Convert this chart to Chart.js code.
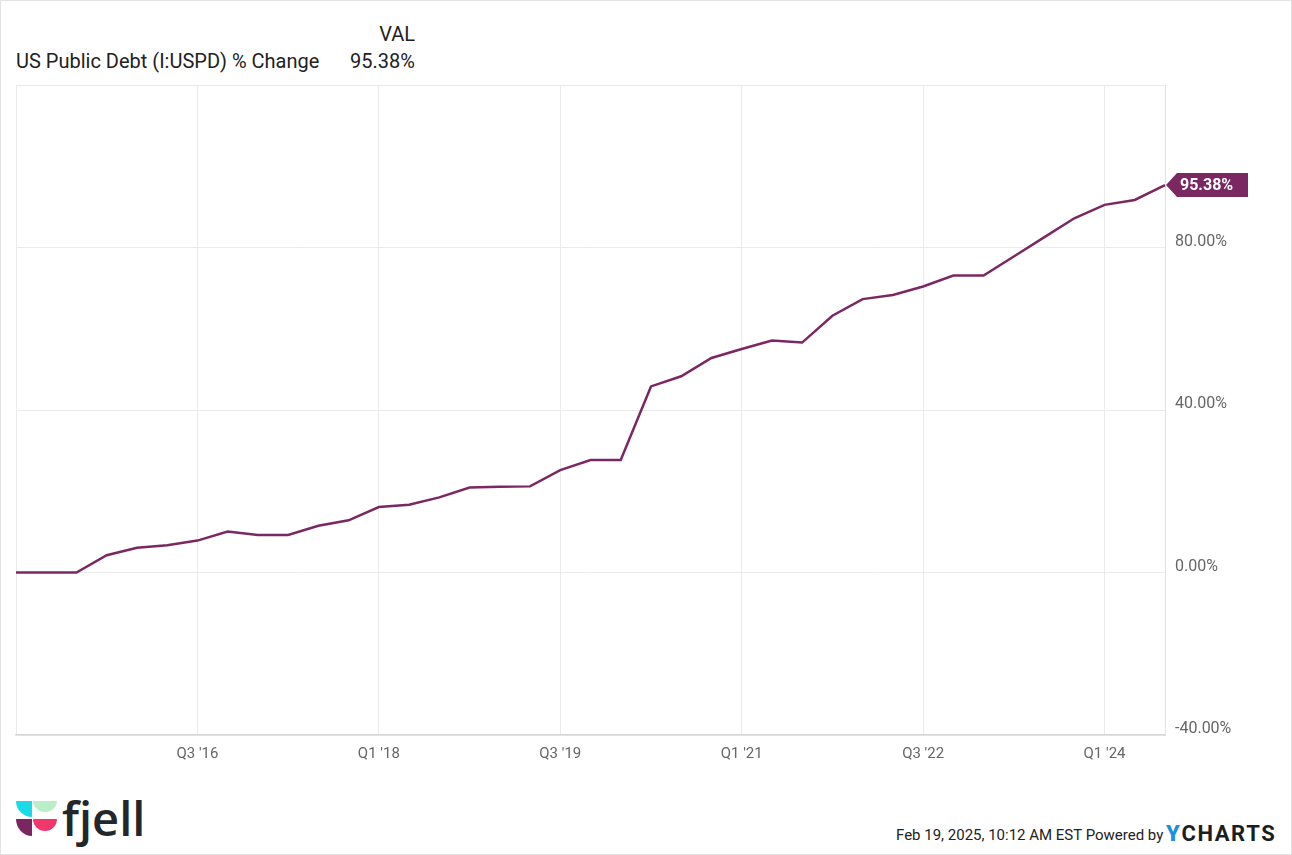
<!DOCTYPE html>
<html>
<head>
<meta charset="utf-8">
<script src="https://cdn.jsdelivr.net/npm/chart.js@4.4.1/dist/chart.umd.min.js"></script>
<style>
  body { margin: 0; background: #fff; font-family: Roboto, sans-serif; }
  #frame { position: relative; width: 1290px; height: 853px; border: 1px solid #e3e3e3; overflow: hidden; }
  #chartBox { position: absolute; left: -1px; top: -1px; width: 1292px; height: 775px; }
  .hdr { position: absolute; font-size: 20px; color: #222; white-space: nowrap; line-height: 24px; }
  #footer { position: absolute; left: 895px; top: 825px; font-size: 15px; color: #222; white-space: nowrap; }
  #ycharts { position: absolute; left: 1165px; top: 820px; font-size: 22px; font-weight: 700; letter-spacing: 1.6px; color: #1d1d1d; font-family: Roboto, sans-serif; }
  #ycharts b { color: #1e8fe1; }
</style>
</head>
<body>
<div id="frame">
  <div class="hdr" style="right: 876px; top: 21px;">VAL</div>
  <div class="hdr" style="left: 15px; top: 48px;">US Public Debt (I:USPD) % Change</div>
  <div class="hdr" style="right: 876px; top: 48px;">95.38%</div>

  <div id="chartBox"><canvas id="chart"></canvas></div>

  <svg style="position:absolute; left:15px; top:799px" width="140" height="50">
    <path d="M16 1 L0 1 A16 16 0 0 0 16 17 Z" fill="#19dbe8"/>
    <path d="M17 1 L41 1 A12 11 0 0 1 17 1 Z" fill="#b9efc8"/>
    <path d="M16 19 L0 19 A16 17 0 0 0 16 36 Z" fill="#7a2761"/>
    <path d="M17 19 L41 19 A12 12 0 0 1 17 19 Z" fill="#f2386b"/>
    <text x="46" y="36" font-family="Open Sans, sans-serif" font-weight="600" font-size="47" fill="#23262b">fjell</text>
  </svg>

  <div id="footer">Feb 19, 2025, 10:12 AM EST Powered by</div>
  <div id="ycharts"><b>Y</b>CHARTS</div>
</div>

<script>
const quarters = [
  "Q1 '15", "Q2 '15", "Q3 '15", "Q4 '15",
  "Q1 '16", "Q2 '16", "Q3 '16", "Q4 '16",
  "Q1 '17", "Q2 '17", "Q3 '17", "Q4 '17",
  "Q1 '18", "Q2 '18", "Q3 '18", "Q4 '18",
  "Q1 '19", "Q2 '19", "Q3 '19", "Q4 '19",
  "Q1 '20", "Q2 '20", "Q3 '20", "Q4 '20",
  "Q1 '21", "Q2 '21", "Q3 '21", "Q4 '21",
  "Q1 '22", "Q2 '22", "Q3 '22", "Q4 '22",
  "Q1 '23", "Q2 '23", "Q3 '23", "Q4 '23",
  "Q1 '24", "Q2 '24", "Q3 '24"
];

// % change in US public debt since Q1 2015
const pctChange = [
  0, 0, 0, 4.25,
  6.1, 6.7, 7.85, 10.1,
  9.25, 9.25, 11.5, 12.85,
  16.1, 16.7, 18.5, 20.9,
  21.1, 21.2, 25.2, 27.7,
  27.7, 45.8, 48.3, 52.8,
  55.0, 57.1, 56.6, 63.2,
  67.3, 68.3, 70.4, 73.1,
  73.1, 77.8, 82.5, 87.2,
  90.5, 91.7, 95.38
];

const yTicks = [-40, 0, 40, 80, 120];
const labelEvery = 6;
const lineColor = '#7b2862';

// value badge at the end of the line
const lastValueTag = {
  id: 'lastValueTag',
  afterDatasetsDraw(chart) {
    const meta = chart.getDatasetMeta(0);
    const pt = meta.data[meta.data.length - 1];
    const ctx = chart.ctx;
    const x = pt.x + 1, y = pt.y;
    ctx.save();
    ctx.fillStyle = lineColor;
    ctx.beginPath();
    ctx.moveTo(x, y);
    ctx.lineTo(x + 11, y - 12);
    ctx.lineTo(x + 82, y - 12);
    ctx.lineTo(x + 82, y + 12);
    ctx.lineTo(x + 11, y + 12);
    ctx.closePath();
    ctx.fill();
    ctx.fillStyle = '#fff';
    ctx.font = 'bold 16px Roboto';
    ctx.textBaseline = 'middle';
    ctx.fillText(pctChange[pctChange.length - 1].toFixed(2) + '%', x + 14, y + 1);
    ctx.restore();
  }
};

new Chart(document.getElementById('chart'), {
  type: 'line',
  data: {
    labels: quarters,
    datasets: [{
      data: pctChange,
      borderColor: lineColor,
      borderWidth: 2.5,
      pointRadius: 0,
      tension: 0,
      fill: false,
    }],
  },
  options: {
    responsive: true,
    maintainAspectRatio: false,
    animation: false,
    layout: { padding: { left: 16, top: 85, right: 0, bottom: 0 } },
    plugins: {
      legend: { display: false },
      tooltip: { enabled: false },
    },
    scales: {
      x: {
        grid: {
          color: (c) => (c.index % labelEvery === 0 ? '#ebebeb' : 'rgba(0,0,0,0)'),
          drawTicks: false,
        },
        border: { color: '#d8d8d8', width: 1.5 },
        ticks: {
          autoSkip: false,
          maxRotation: 0,
          padding: 10,
          color: '#666',
          font: { family: 'Roboto', size: 15 },
          callback: (v, i) => (i > 0 && i % labelEvery === 0 ? quarters[i] : ''),
        },
        afterFit: (s) => { s.height = 40; },
      },
      y: {
        position: 'right',
        min: -40,
        max: 120,
        afterBuildTicks: (s) => { s.ticks = yTicks.map((v) => ({ value: v })); },
        grid: { color: '#ebebeb', drawTicks: false },
        border: { color: '#e3e3e3' },
        ticks: {
          padding: 10,
          labelOffset: -6,
          color: '#666',
          font: { family: 'Roboto', size: 16 },
          callback: (v) => (v === 120 ? '' : v.toFixed(2) + '%'),
        },
        afterFit: (s) => { s.width = 127; },
      },
    },
  },
  plugins: [lastValueTag],
});
</script>
</body>
</html>
